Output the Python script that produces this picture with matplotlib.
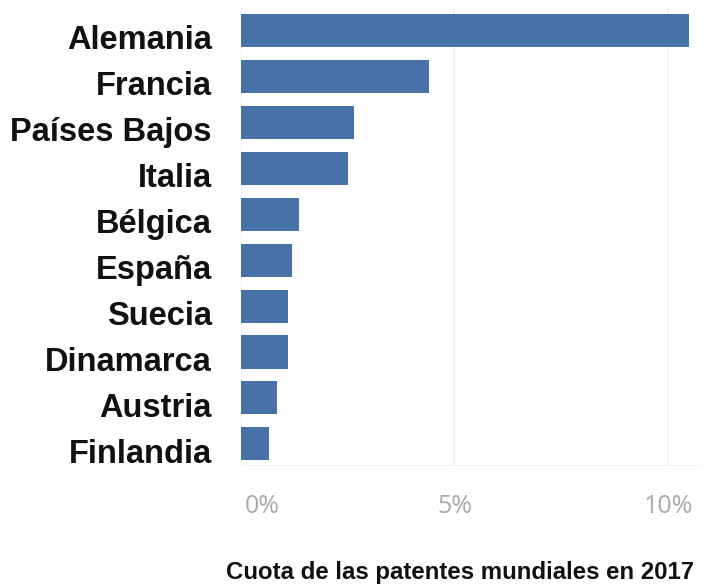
import matplotlib.pyplot as plt
import matplotlib.transforms as mtransforms

# Share of world patents by country, 2017 (%)
paises = ["Alemania", "Francia", "Países Bajos", "Italia", "Bélgica",
          "España", "Suecia", "Dinamarca", "Austria", "Finlandia"]
cuota = [10.5, 4.4, 2.65, 2.5, 1.35, 1.2, 1.1, 1.1, 0.85, 0.65]
ticks = [0, 5, 10]
tick_labels = ["0%", "5%", "10%"]

fig = plt.figure(figsize=(7.06, 5.84), dpi=100)
ax = fig.add_axes([0.3414, 0.2038, 0.650, 0.784])

ax.barh(range(len(paises)), cuota, height=0.72, color="#4672a8", zorder=2)

ax.set_xlim(0, 10.75)
ax.set_ylim(9.46, -0.51)

# vertical grid, very light
ax.set_xticks(ticks)
ax.grid(axis="x", color="#f2f2f2", linewidth=1.2, zorder=0)
for s in ["top", "right", "left"]:
    ax.spines[s].set_visible(False)
ax.spines["bottom"].set_color("#f2f2f2")
ax.tick_params(axis="both", length=0)

ax.set_xticklabels(tick_labels, fontsize=18, color="#aaaaaa", family="Open Sans")
ax.tick_params(axis="x", pad=21)
first = ax.get_xticklabels()[0]
first.set_horizontalalignment("left")
first.set_transform(first.get_transform() +
                    mtransforms.ScaledTranslation(4 / 100, 0, fig.dpi_scale_trans))

ax.set_yticks(range(len(paises)))
ax.set_yticklabels(paises, fontsize=23.5, fontweight="bold",
                   family="Liberation Sans", color="#111111")
ax.tick_params(axis="y", pad=21)
shift = mtransforms.ScaledTranslation(0, -5 / 72, fig.dpi_scale_trans)
for lbl in ax.get_yticklabels():
    lbl.set_transform(lbl.get_transform() + shift)

fig.text(226 / 706, 1 - 572 / 584, "Cuota de las patentes mundiales en 2017",
         fontsize=17.3, fontweight="bold", family="Liberation Sans",
         color="#111111", ha="left", va="center")

fig.savefig("out.png", dpi=100)
